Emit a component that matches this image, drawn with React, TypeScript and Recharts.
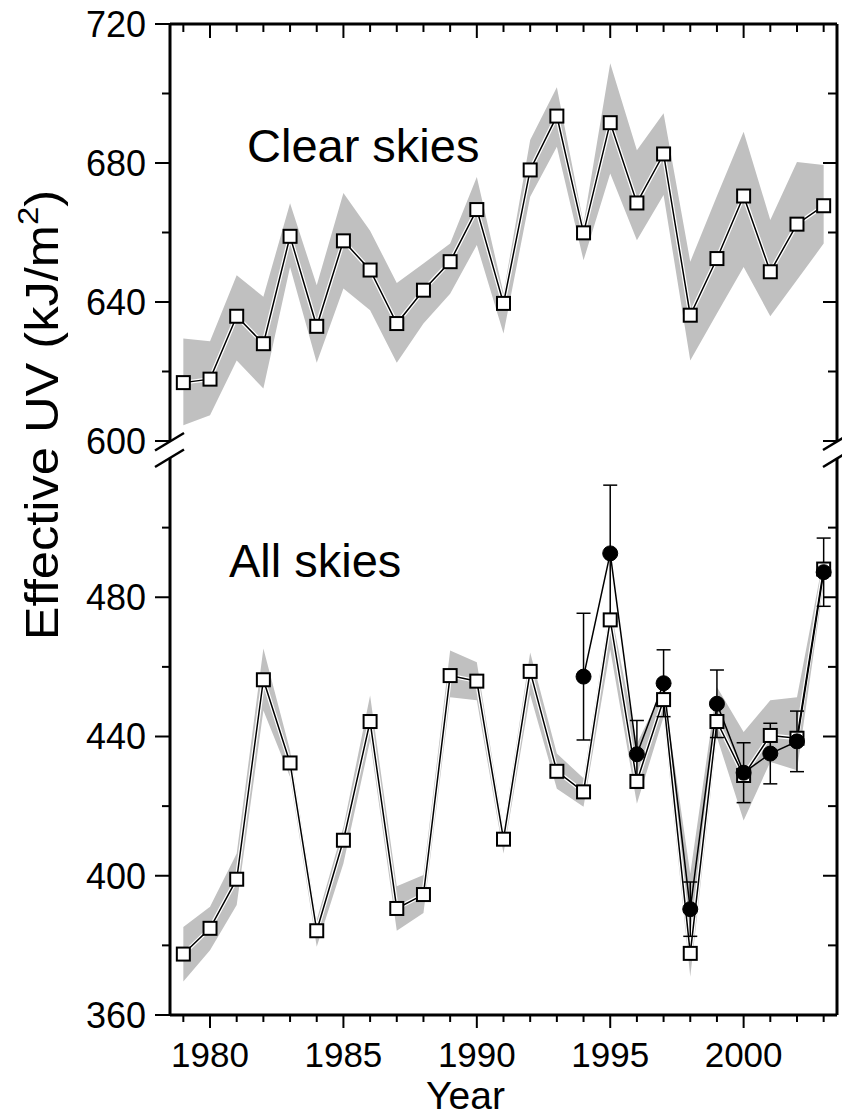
import React from 'react';
import {
  ComposedChart,
  Line,
  Area,
  XAxis,
  YAxis,
  ErrorBar
} from 'recharts';

const FONT = '"Liberation Sans", Arial, sans-serif';

// years of record
const years = [
  1979, 1980, 1981, 1982, 1983, 1984, 1985, 1986, 1987, 1988, 1989, 1990, 1991,
  1992, 1993, 1994, 1995, 1996, 1997, 1998, 1999, 2000, 2001, 2002, 2003
];

// clear-sky modelled UV dose and its uncertainty envelope
const clearSky = [
  616.8, 617.8, 635.9, 628.0, 658.9, 633.0, 657.6, 649.2, 633.8, 643.4, 651.6, 666.6, 639.6,
  678.0, 693.5, 659.9, 691.6, 668.5, 682.6, 636.2, 652.5, 670.5, 648.7, 662.4, 667.7
];
const clearHigh = [
  629.5, 628.7, 647.7, 641.5, 668.4, 644.8, 671.4, 660.5, 645.5, 651.1, 656.8, 676.0, 642.5,
  686.6, 701.8, 662.6, 708.7, 683.7, 694.3, 651.6, 670.5, 689.0, 663.6, 680.3, 679.4
];
const clearLow = [
  604.5, 607.4, 623.2, 615.1, 650.1, 622.5, 643.9, 637.6, 622.5, 633.8, 642.4, 656.4, 630.9,
  670.3, 684.7, 652.0, 677.0, 657.8, 670.8, 623.2, 636.7, 650.1, 635.9, 646.3, 656.8
];

// all-sky modelled UV dose and its uncertainty envelope
const allSky = [
  377.5, 384.9, 399.0, 456.3, 432.4, 384.2, 410.2, 444.3, 390.6, 394.6, 457.5, 455.9, 410.5,
  458.7, 430.0, 424.1, 473.5, 427.1, 450.6, 377.7, 444.3, 428.8, 440.3, 439.5, 488.1
];
const allHigh = [
  385.3, 391.1, 406.4, 465.3, 436.0, 387.3, 414.0, 451.8, 397.0, 400.2, 464.7, 461.3, 413.5,
  464.1, 435.1, 428.0, 477.1, 438.0, 453.7, 400.6, 454.2, 441.3, 450.4, 451.3, 491.5
];
const allLow = [
  369.6, 378.6, 391.6, 447.5, 428.4, 379.6, 403.5, 438.9, 384.2, 389.3, 451.3, 450.4, 406.4,
  452.0, 425.0, 419.8, 465.0, 420.7, 445.6, 371.0, 439.8, 415.9, 432.7, 430.3, 484.0
];

// ground-based measurements with error bars
const measuredYears = [1994, 1995, 1996, 1997, 1998, 1999, 2000, 2001, 2002, 2003];
const measured = [457.2, 492.6, 434.9, 455.3, 390.4, 449.4, 429.6, 435.1, 438.6, 487.2];
const measuredErr = [18.2, 19.6, 9.7, 9.6, 7.8, 9.7, 8.6, 8.7, 8.7, 9.8];

const topTicks = [600, 620, 640, 660, 680, 700, 720];
const bottomTicks = [360, 380, 400, 420, 440, 460, 480, 500];

const clearRows = years.map((year, i) => ({
  year,
  value: clearSky[i],
  band: [clearLow[i], clearHigh[i]]
}));
const allRows = years.map((year, i) => ({
  year,
  value: allSky[i],
  band: [allLow[i], allHigh[i]]
}));
const measuredRows = measuredYears.map((year, i) => ({
  year,
  measured: measured[i],
  err: measuredErr[i]
}));

const SquareDot = (props: any) => {
  const { cx, cy, index } = props;
  if (cx == null || cy == null) return null;
  return (
    <rect
      key={`sq-${index}`}
      x={cx - 6.5}
      y={cy - 6.5}
      width={13}
      height={13}
      fill="#fff"
      stroke="#000"
      strokeWidth={2}
    />
  );
};

// tick components get x/y at the axis line itself (tickSize and tickMargin are 0)

// left axis: ticks point outwards, every 40 gets a label
const LeftTick = (props: any) => {
  const { x, y, payload } = props;
  const major = payload.value % 40 === 0;
  return (
    <g>
      <line x1={x} x2={x - (major ? 15 : 8)} y1={y} y2={y} stroke="#000" strokeWidth={2} />
      {major && (
        <text x={x - 24} y={y} dy="0.36em" textAnchor="end" fontSize={36} fontFamily={FONT} fill="#000">
          {payload.value}
        </text>
      )}
    </g>
  );
};

// right axis: ticks point into the plot, no labels
const RightTick = (props: any) => {
  const { x, y, payload } = props;
  const major = payload.value % 40 === 0;
  return <line x1={x} x2={x - (major ? 14 : 9)} y1={y} y2={y} stroke="#000" strokeWidth={2} />;
};

const TopTick = (props: any) => {
  const { x, y, payload } = props;
  const major = payload.value % 5 === 0;
  return <line x1={x} x2={x} y1={y} y2={y + (major ? 14 : 8)} stroke="#000" strokeWidth={2} />;
};

const BottomTick = (props: any) => {
  const { x, y, payload } = props;
  const major = payload.value % 5 === 0;
  return (
    <g>
      <line x1={x} x2={x} y1={y} y2={y + (major ? 13 : 7)} stroke="#000" strokeWidth={2} />
      {major && (
        <text x={x} y={y + 52} textAnchor="middle" fontSize={35} fontFamily={FONT} fill="#000">
          {payload.value}
        </text>
      )}
    </g>
  );
};

const YearLabel = (props: any) => {
  const { viewBox } = props;
  if (!viewBox) return null;
  return (
    <text x={viewBox.x + viewBox.width / 2 - 38} y={viewBox.y + 94} textAnchor="middle" fontSize={39} fontFamily={FONT} fill="#000">
      Year
    </text>
  );
};

const axisLine = { stroke: '#000', strokeWidth: 3 };
const xDomain: [number, number] = [1978.5, 2003.5];

const App: React.FC = () => {
  return (
    <div style={{ position: 'absolute', left: 0, top: 0, width: 842, height: 1117, background: '#fff', fontFamily: FONT }}>
      {/* all skies panel: plot area x 170..837, y 458..1015 */}
      <div style={{ position: 'absolute', left: 0, top: 449 }}>
        <ComposedChart width={842} height={668} data={allRows} margin={{ top: 9, right: 0, bottom: 2, left: 10 }}>
          <XAxis
            type="number"
            dataKey="year"
            domain={xDomain}
            ticks={years}
            interval={0}
            allowDataOverflow
            height={100}
            tickSize={0}
            tickMargin={0}
            tickLine={false}
            axisLine={axisLine}
            tick={BottomTick}
            label={<YearLabel />}
          />
          <YAxis
            type="number"
            domain={[360, 520]}
            ticks={bottomTicks}
            interval={0}
            allowDataOverflow
            width={160}
            tickSize={0}
            tickMargin={0}
            tickLine={false}
            axisLine={axisLine}
            tick={LeftTick}
          />
          <YAxis
            yAxisId="r"
            type="number"
            orientation="right"
            domain={[360, 520]}
            ticks={bottomTicks}
            interval={0}
            allowDataOverflow
            width={5}
            tickSize={0}
            tickMargin={0}
            tickLine={false}
            axisLine={axisLine}
            tick={RightTick}
          />
          <Area type="linear" dataKey="band" fill="#c0c0c0" fillOpacity={1} stroke="none" isAnimationActive={false} />
          <Line type="linear" dataKey="value" stroke="#fff" strokeWidth={4} dot={false} isAnimationActive={false} />
          <Line type="linear" dataKey="value" stroke="#000" strokeWidth={1.5} dot={SquareDot} isAnimationActive={false} />
          <Line
            type="linear"
            data={measuredRows}
            dataKey="measured"
            stroke="#000"
            strokeWidth={1.5}
            dot={{ r: 7.5, fill: '#000', stroke: '#000', strokeWidth: 1 }}
            isAnimationActive={false}
          >
            <ErrorBar dataKey="err" direction="y" width={7} stroke="#000" strokeWidth={1.5} />
          </Line>
        </ComposedChart>
      </div>

      {/* clear skies panel: plot area x 170..837, y 24..441; extra bottom margin keeps the 600 label inside */}
      <div style={{ position: 'absolute', left: 0, top: 0 }}>
        <ComposedChart width={842} height={470} data={clearRows} margin={{ top: 4, right: 0, bottom: 29, left: 10 }}>
          <XAxis
            type="number"
            dataKey="year"
            orientation="top"
            domain={xDomain}
            ticks={years}
            interval={0}
            allowDataOverflow
            height={20}
            tickSize={0}
            tickMargin={0}
            tickLine={false}
            axisLine={axisLine}
            tick={TopTick}
          />
          <YAxis
            type="number"
            domain={[600, 720]}
            ticks={topTicks}
            interval={0}
            allowDataOverflow
            width={160}
            tickSize={0}
            tickMargin={0}
            tickLine={false}
            axisLine={axisLine}
            tick={LeftTick}
          />
          <YAxis
            yAxisId="r"
            type="number"
            orientation="right"
            domain={[600, 720]}
            ticks={topTicks}
            interval={0}
            allowDataOverflow
            width={5}
            tickSize={0}
            tickMargin={0}
            tickLine={false}
            axisLine={axisLine}
            tick={RightTick}
          />
          <Area type="linear" dataKey="band" fill="#c0c0c0" fillOpacity={1} stroke="none" isAnimationActive={false} />
          <Line type="linear" dataKey="value" stroke="#fff" strokeWidth={4} dot={false} isAnimationActive={false} />
          <Line type="linear" dataKey="value" stroke="#000" strokeWidth={1.5} dot={SquareDot} isAnimationActive={false} />
        </ComposedChart>
      </div>

      {/* axis breaks, panel titles and the shared y title */}
      <svg width={842} height={1117} style={{ position: 'absolute', left: 0, top: 0, pointerEvents: 'none' }}>
        <g stroke="#000" strokeWidth={2.5}>
          <line x1={155} y1={450.5} x2={184} y2={433} />
          <line x1={155} y1={467} x2={184} y2={449.5} />
          <line x1={823} y1={450} x2={851} y2={433} />
          <line x1={823} y1={467} x2={851} y2={450} />
        </g>
        <text x={247} y={162} fontSize={47} fontFamily={FONT} fill="#000">Clear skies</text>
        <text x={229} y={577} fontSize={47} fontFamily={FONT} fill="#000">All skies</text>
        <text
          transform="translate(58 415) rotate(-90) scale(1.1 1)"
          textAnchor="middle"
          fontSize={46}
          fontFamily={FONT}
          fill="#000"
        >
          Effective UV (kJ/m
          <tspan fontSize={30} dy={-20}>2</tspan>
          <tspan dy={20}>)</tspan>
        </text>
      </svg>
    </div>
  );
};

export default App;
